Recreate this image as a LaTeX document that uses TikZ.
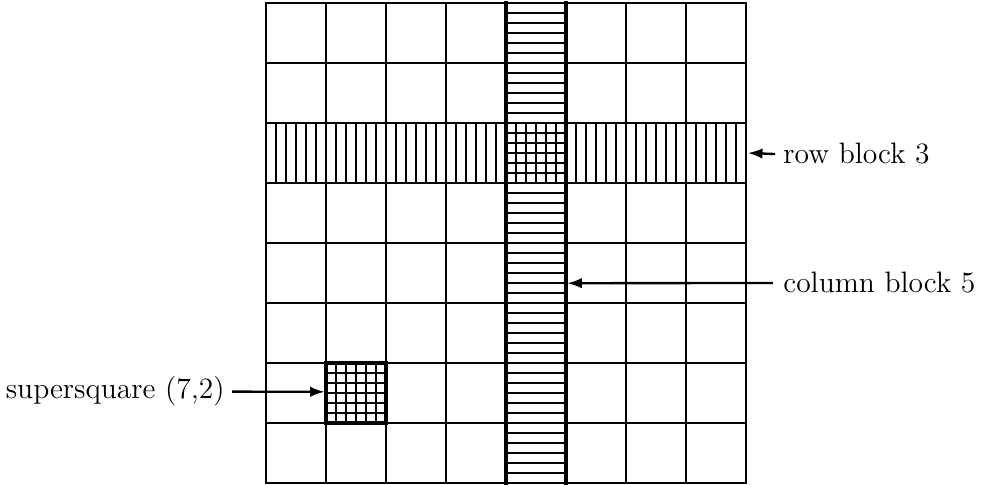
\documentclass[tikz,border=0pt]{standalone}
\usetikzlibrary{arrows.meta}
\begin{document}
\begin{tikzpicture}[line cap=rect, line join=miter, >={Latex[length=7pt,width=5pt]}, font=\fontsize{14}{17}\selectfont,
	gridline/.style={line width=0.95pt},
	hatchline/.style={line width=0.75pt},
	blockline/.style={line width=1.7pt},
	pointer/.style={->, line width=1.1pt, line cap=butt}]
	% Khung trang: 981 x 484 px, mot o = 60 px = 1 cm
	\useasboundingbox (0,0) rectangle (16.35,8.067);
	
	\begin{scope}[shift={(4.433,0.017)}]
		% Cot 5 (x tu 4 den 5): cac vach ngang
		\foreach \k in {1,...,47}
		\draw[hatchline] (4,\k/6) -- (5,\k/6);
		
		% Hang 3 (y tu 5 den 6): cac vach doc
		\foreach \k in {1,...,47}
		\draw[hatchline] (\k/6,5) -- (\k/6,6);
		
		% Sieu o vuong (7,2): luoi 6 x 6
		\foreach \k in {1,...,5} {
			\draw[hatchline] (1,1+\k/6) -- (2,1+\k/6);
			\draw[hatchline] (1+\k/6,1) -- (1+\k/6,2);
		}
		
		% Luoi 8 x 8
		\foreach \i in {0,...,8} {
			\draw[gridline] (\i,0) -- (\i,8);
			\draw[gridline] (0,\i) -- (8,\i);
		}
		
		% Vien dam cua cot 5 va sieu o vuong
		\draw[blockline] (4,0) -- (4,8);
		\draw[blockline] (5,0) -- (5,8);
		\draw[blockline] (1,1) rectangle (2,2);
		
		% Cac diem dau mui ten
		\coordinate (rowEnd) at (8.03,5.5);
		\coordinate (colEnd) at (5.02,3.33);
		\coordinate (supEnd) at (0.98,1.52);
	\end{scope}
	
	% Nhan
	\node[anchor=west, inner sep=0pt] (rowLbl) at (13.05,5.5) {row block 3};
	\node[anchor=west, inner sep=0pt] (colLbl) at (13.05,3.35) {column block 5};
	\node[anchor=east, inner sep=0pt] (supLbl) at (3.75,1.54) {supersquare (7,2)};
	
	% Mui ten
	\draw[pointer] (rowLbl.west) ++(-0.13,0) -- (rowEnd);
	\draw[pointer] (colLbl.west) ++(-0.17,0) -- (colEnd);
	\draw[pointer] (supLbl.east) ++(0.12,0) -- (supEnd);
\end{tikzpicture}
\end{document}
